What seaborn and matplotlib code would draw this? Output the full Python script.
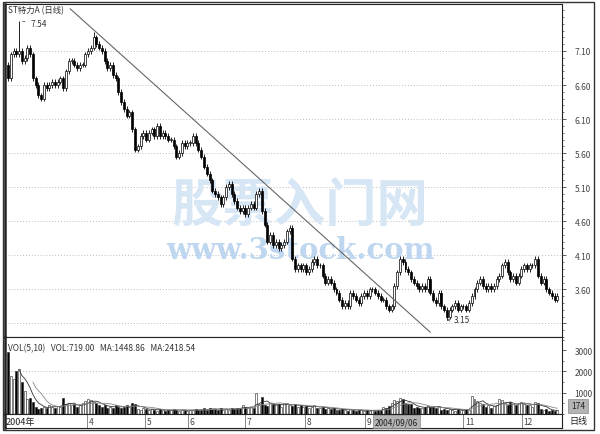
import pandas as pd
import seaborn as sns
import matplotlib.pyplot as plt
from matplotlib.patches import Rectangle
from matplotlib.ticker import MultipleLocator

# --- Data ---
closes = [
    6.70, 7.05, 7.10, 7.05, 7.10, 6.95, 7.00, 7.15, 7.05, 6.70,
    6.60, 6.45, 6.40, 6.60, 6.55, 6.60, 6.65, 6.60, 6.65, 6.70,
    6.55, 6.80, 6.95, 6.95, 6.90, 6.85, 6.90, 6.90, 7.05, 7.10,
    7.15, 7.30, 7.20, 7.15, 7.10, 6.95, 6.85, 6.90, 6.75, 6.70,
    6.50, 6.35, 6.25, 6.15, 6.20, 5.95, 5.65, 5.70, 5.85, 5.90,
    5.80, 5.90, 5.95, 5.85, 6.00, 5.85, 5.90, 5.85, 5.80, 5.80,
    5.70, 5.55, 5.60, 5.75, 5.70, 5.75, 5.75, 5.85, 5.75, 5.65,
    5.55, 5.40, 5.30, 5.20, 5.05, 5.00, 4.95, 4.85, 4.95, 5.10,
    5.15, 5.00, 4.90, 4.80, 4.75, 4.80, 4.70, 4.80, 4.85, 4.80,
    5.00, 5.05, 4.75, 4.55, 4.30, 4.40, 4.25, 4.30, 4.20, 4.25,
    4.30, 4.45, 4.50, 4.05, 3.90, 3.95, 3.90, 3.95, 3.85, 3.90,
    4.00, 4.05, 3.95, 3.95, 3.80, 3.70, 3.75, 3.70, 3.60, 3.55,
    3.45, 3.35, 3.40, 3.35, 3.55, 3.50, 3.45, 3.40, 3.50, 3.55,
    3.50, 3.60, 3.60, 3.55, 3.50, 3.45, 3.45, 3.35, 3.30, 3.35,
    3.65, 3.85, 4.05, 4.00, 3.90, 3.85, 3.75, 3.70, 3.65, 3.60,
    3.65, 3.60, 3.75, 3.55, 3.45, 3.40, 3.55, 3.35, 3.30, 3.20,
    3.30, 3.35, 3.40, 3.30, 3.35, 3.35, 3.30, 3.40, 3.50, 3.60,
    3.70, 3.75, 3.65, 3.60, 3.65, 3.60, 3.65, 3.75, 3.80, 3.95,
    4.00, 3.85, 3.75, 3.80, 3.70, 3.80, 3.90, 3.95, 3.90, 3.95,
    3.95, 4.05, 3.80, 3.70, 3.75, 3.60, 3.55, 3.50, 3.45, 3.50,
]
first_open = 6.90
spike_idx = [4, 31, 159]
spike_val = [7.54, 7.38, 3.15]

volumes = [
    2900, 1800, 1650, 2000, 2100, 1500, 1100, 700, 750, 550,
    350, 250, 300, 350, 300, 400, 350, 300, 380, 350,
    760, 450, 500, 400, 450, 350, 400, 500, 600, 700,
    650, 550, 500, 400, 350, 400, 300, 350, 300, 400,
    350, 300, 350, 400, 350, 500, 450, 250, 200, 280,
    220, 180, 250, 200, 160, 230, 180, 150, 200, 170,
    220, 190, 160, 210, 180, 150, 200, 170, 230, 190,
    200, 260, 180, 300, 220, 250, 190, 280, 210, 240,
    200, 300, 230, 260, 280, 400, 320, 280, 350, 300,
    1000, 450, 780, 420, 380, 500, 450, 400, 480, 350,
    500, 500, 420, 380, 450, 350, 400, 330, 380, 300,
    350, 420, 300, 280, 320, 250, 300, 220, 260, 200,
    180, 240, 200, 160, 230, 190, 150, 210, 170, 140,
    180, 160, 200, 150, 190, 170, 350, 300, 380, 500,
    650, 600, 750, 700, 500, 450, 450, 300, 320, 280,
    300, 350, 380, 320, 350, 300, 360, 200, 240, 180,
    250, 200, 160, 220, 200, 180, 230, 210, 850, 700,
    600, 500, 450, 350, 400, 300, 380, 420, 700, 650,
    500, 420, 550, 450, 400, 500, 570, 480, 420, 400,
    350, 550, 520, 250, 200, 220, 150, 180, 130, 174,
]

price_ticks = [3.10, 3.60, 4.10, 4.60, 5.10, 5.60, 6.10, 6.60, 7.10]
price_tick_labels = ["", "3.60", "4.10", "4.60", "5.10", "5.60", "6.10", "6.60", "7.10"]
vol_ticks = [1000, 2000, 3000]
vol_grid = [1000, 2000]
month_pos = [28.6, 49.6, 65.2, 85.9, 107.6, 129.3, 164.9, 186.2]
month_labels = ["4", "5", "6", "7", "8", "9", "11", "12"]
trend_x = [22.5, 153.0]
trend_y = [7.72, 2.97]

# --- Build OHLC frame ---
df = pd.DataFrame({"close": closes, "volume": volumes})
df["open"] = [first_open] + closes[:-1]
df["up"] = df["close"] >= df["open"]
df["top"] = df[["open", "close"]].max(axis=1)
df["bot"] = df[["open", "close"]].min(axis=1)
wick = 0.04
df["high"] = df["top"] + wick
df["low"] = df["bot"] - wick
for i, v in zip(spike_idx, spike_val):
    if v > df.loc[i, "top"]:
        df.loc[i, "high"] = v
    else:
        df.loc[i, "low"] = v
df["ma5"] = df["volume"].rolling(5).mean()
df["ma10"] = df["volume"].rolling(10).mean()
df["idx"] = df.index
face = ["white" if u else "black" for u in df["up"]]

# --- Figure layout (pixel boxes) ---
sns.set_theme(style="white")
plt.rcParams["font.family"] = ["Noto Sans CJK SC", "DejaVu Sans"]
W, H = 600, 435
fig = plt.figure(figsize=(6, 4.35), dpi=100)


def box(x0, y0, x1, y1):
    return [x0 / W, 1 - y1 / H, (x1 - x0) / W, (y1 - y0) / H]


ax = fig.add_axes(box(5, 5, 562, 338))
axv = fig.add_axes(box(5, 338, 562, 415))
axd = fig.add_axes(box(5, 415, 562, 429))
xlim = (-1.1, 200.7)
txt = "#444444"

# --- Price panel ---
for y in price_ticks:
    ax.axhline(y, color="#bdbdbd", lw=0.7, ls=(0, (1, 2)), zorder=0)
ax.text(0.53, 0.40, "股票入门网", transform=ax.transAxes, ha="center", va="center",
        fontsize=37, fontweight="bold", color="#d6e6f5", zorder=0.5)
ax.text(0.53, 0.262, "www.3stock.com", transform=ax.transAxes, ha="center", va="center",
        fontsize=21, fontweight="bold", color="#bed6ef", family="DejaVu Serif", zorder=0.5)
ax.vlines(df["idx"], df["low"], df["high"], color="black", lw=0.6, zorder=2)
ax.bar(df["idx"], (df["top"] - df["bot"]).clip(lower=0.012), bottom=df["bot"], width=0.72,
       color=face, edgecolor="black", lw=0.5, zorder=3)
sns.lineplot(x=trend_x, y=trend_y, ax=ax, color="#666666", lw=0.8, zorder=4)
ax.set_xlim(*xlim)
ax.set_ylim(2.90, 7.79)
ax.yaxis.tick_right()
ax.set_yticks(price_ticks)
ax.set_yticklabels(price_tick_labels)
ax.yaxis.set_minor_locator(MultipleLocator(0.1))
ax.tick_params(axis="y", which="major", right=True, left=False, direction="out", length=3,
               width=0.6, labelsize=6, colors=txt, pad=6)
ax.tick_params(axis="y", which="minor", right=True, left=False, direction="out", length=1.5,
               width=0.5, colors=txt)
ax.set_xticks([])
ax.text(0.006, 0.982, "ST特力A (日线)", transform=ax.transAxes, fontsize=6, color="#333333",
        ha="left", va="center")
ax.annotate("7.54", xy=(spike_idx[0] + 0.3, spike_val[0]), xytext=(8, -2), textcoords="offset points",
            fontsize=6, color="#333333", va="center",
            arrowprops=dict(arrowstyle="-", color="#333333", lw=0.5))
ax.annotate("3.15", xy=(spike_idx[2], spike_val[2]), xytext=(5, 0), textcoords="offset points",
            fontsize=6, color="#333333", va="center",
            arrowprops=dict(arrowstyle="->", color="#333333", lw=0.5, mutation_scale=4))

# --- Volume panel ---
for y in vol_grid:
    axv.axhline(y, color="#bdbdbd", lw=0.7, ls=(0, (1, 2)), zorder=0)
axv.bar(df["idx"], df["volume"], width=0.72, color=face, edgecolor="#222222", lw=0.4, zorder=2)
sns.lineplot(data=df, x="idx", y="ma5", ax=axv, color="#333333", lw=0.6, zorder=3)
sns.lineplot(data=df, x="idx", y="ma10", ax=axv, color="#888888", lw=0.6, zorder=3)
axv.set_xlim(*xlim)
axv.set_ylim(0, 3620)
axv.set_xlabel("")
axv.set_ylabel("")
axv.set_xticks([])
axv.yaxis.tick_right()
axv.set_yticks(vol_ticks)
axv.set_yticklabels([str(v) for v in vol_ticks])
axv.yaxis.set_minor_locator(MultipleLocator(500))
axv.tick_params(axis="y", which="major", right=True, left=False, direction="out", length=3,
                width=0.6, labelsize=6, colors=txt, pad=6)
axv.tick_params(axis="y", which="minor", right=True, left=False, direction="out", length=1.5,
                width=0.5, colors=txt)
axv.text(0.006, 0.86, "VOL(5,10)   VOL:719.00   MA:1448.86   MA:2418.54", transform=axv.transAxes,
         fontsize=6, color="#333333", ha="left", va="center")

# --- Date strip ---
axd.set_xlim(*xlim)
axd.set_ylim(0, 1)
axd.set_xticks([])
axd.set_yticks([])
axd.vlines(month_pos, 0, 1, color="#777777", lw=0.6)
for p, lab in zip(month_pos, month_labels):
    axd.text(p + 0.6, 0.45, lab, fontsize=6, color="#444444", ha="left", va="center")
axd.text(-0.8, 0.45, "2004年", fontsize=6.5, color="#222222", ha="left", va="center")
axd.text(132.8, 0.45, "2004/09/06", fontsize=6, color="#222222", ha="left", va="center",
         bbox=dict(boxstyle="square,pad=0.25", fc="#b4b4b4", ec="#888888", lw=0.5))

for a in (ax, axv, axd):
    for s in a.spines.values():
        s.set_color("#222222")
        s.set_linewidth(0.8)
    a.spines["left"].set_linewidth(1.8)

# --- Right-hand labels and outer frame ---
fig.text(578 / W, 1 - 407 / H, "174", fontsize=6, color="#222222", ha="center", va="center",
         bbox=dict(boxstyle="square,pad=0.3", fc="#b4b4b4", ec="#888888", lw=0.5))
fig.text(578 / W, 1 - 422 / H, "日线", fontsize=6.5, color="#222222", ha="center", va="center")
fig.patches.append(Rectangle((3 / W, 1 - 431 / H), 591 / W, 428 / H, transform=fig.transFigure,
                             fill=False, ec="#333333", lw=1.0))

fig.savefig("out.png", dpi=100)
